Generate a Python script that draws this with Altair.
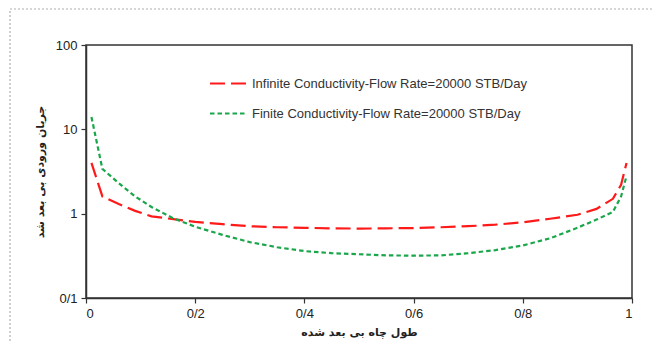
import altair as alt
import pandas as pd

x_vals = [0.01, 0.03, 0.06, 0.09, 0.12, 0.16, 0.2, 0.25, 0.3, 0.35, 0.4, 0.45, 0.5,
          0.55, 0.6, 0.65, 0.7, 0.75, 0.8, 0.85, 0.9, 0.935, 0.965, 0.98, 0.99]
infinite_vals = [4.0, 1.6, 1.3, 1.08, 0.93, 0.86, 0.8, 0.75, 0.71, 0.69, 0.68, 0.67, 0.665,
                 0.67, 0.675, 0.69, 0.71, 0.74, 0.79, 0.87, 0.97, 1.14, 1.5, 2.2, 4.0]
finite_vals = [14.0, 3.4, 2.3, 1.6, 1.2, 0.88, 0.7, 0.56, 0.46, 0.4, 0.36, 0.34, 0.33,
               0.32, 0.318, 0.32, 0.34, 0.37, 0.42, 0.51, 0.68, 0.85, 1.05, 1.6, 2.8]
series_names = ["Infinite Conductivity-Flow Rate=20000 STB/Day",
                "Finite Conductivity-Flow Rate=20000 STB/Day"]
x_title = "طول چاه بی بعد شده"
y_title = "جریان ورودی بی بعد شد"

rows = []
for i, x in enumerate(x_vals):
    rows.append({"x": x, "y": infinite_vals[i], "series": series_names[0], "order": i})
    rows.append({"x": x, "y": finite_vals[i], "series": series_names[1], "order": i})
df = pd.DataFrame(rows)

lines = alt.Chart(df).mark_line(strokeWidth=2.2, clip=True).encode(
    x=alt.X("x:Q", scale=alt.Scale(domain=[0, 1], nice=False, zero=False),
            axis=alt.Axis(title=x_title, values=[0, 0.2, 0.4, 0.6, 0.8, 1],
                          labelExpr="replace(format(datum.value, ''), '.', '/')",
                          grid=False, tickSize=5, labelPadding=4,
                          titleFont="DejaVu Sans", titleFontWeight="bold", titleFontSize=11,
                          titlePadding=6)),
    y=alt.Y("y:Q", scale=alt.Scale(type="log", domain=[0.1, 100], nice=False),
            axis=alt.Axis(title=y_title, values=[0.1, 1, 10, 100],
                          labelExpr="replace(format(datum.value, ''), '.', '/')",
                          grid=False, tickSize=5, labelPadding=4,
                          titleFont="DejaVu Sans", titleFontWeight="bold", titleFontSize=11,
                          titlePadding=10)),
    color=alt.Color("series:N", sort=series_names,
                    scale=alt.Scale(domain=series_names, range=["#ff1a1a", "#1aa64a"]),
                    legend=alt.Legend(title=None, orient="none", legendX=123, legendY=19,
                                      symbolType="stroke", symbolSize=1369,
                                      symbolStrokeWidth=2, rowPadding=3, labelOffset=4,
                                      labelFont="Liberation Sans", labelFontSize=13,
                                      labelColor="#333", labelLimit=400)),
    strokeDash=alt.StrokeDash("series:N", sort=series_names,
                              scale=alt.Scale(domain=series_names, range=[[15, 6], [4.5, 3]]),
                              legend=None),
    detail="series:N",
    order="order:Q",
)

border = alt.Chart(pd.DataFrame({"a": [0]})).mark_rect(
    fill=None, stroke="#b0b0b0", strokeDash=[2, 2], strokeWidth=1.2
).encode(x=alt.value(-76), x2=alt.value(570), y=alt.value(-36), y2=alt.value(330))

chart = alt.layer(border, lines).properties(
    width=546, height=253,
    autosize=alt.AutoSizeParams(type="none"),
    padding={"left": 78, "top": 37, "right": 22, "bottom": 45},
).configure_view(stroke="#333", strokeWidth=1.5).configure_axis(
    domainColor="#333", domainWidth=1.5, tickColor="#333", tickWidth=1.2,
    labelFont="Liberation Sans", labelFontSize=13, labelColor="#222", titleColor="#222"
)

chart.save("out.html", embed_options={"renderer": "svg", "actions": False})
